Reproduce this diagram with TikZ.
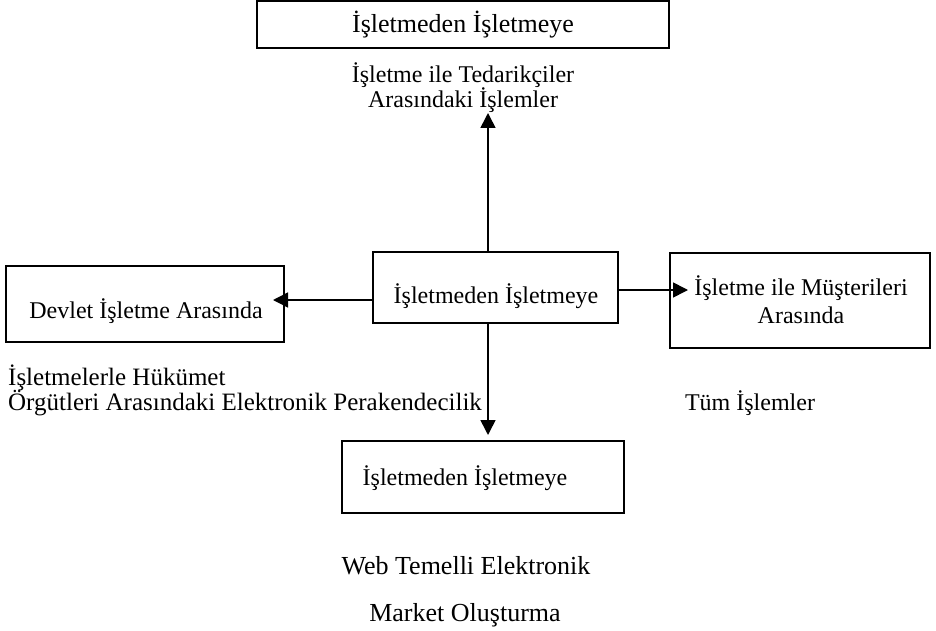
\documentclass[tikz,border=0pt]{standalone}
\usepackage{fontspec}
\setmainfont{Liberation Serif}
\usetikzlibrary{arrows.meta}
\tikzset{
  boxnode/.style={draw=black, line width=2pt, rectangle, inner sep=0pt},
  txt/.style={inner sep=0pt, anchor=base, font=\fontsize{24}{28}\selectfont},
  txtL/.style={inner sep=0pt, anchor=base west, font=\fontsize{25}{29}\selectfont},
  txtB/.style={inner sep=0pt, anchor=base, font=\fontsize{26}{30}\selectfont},
  conn/.style={draw=black, line width=1.6pt, -{Triangle[length=15pt,width=15pt]}}
}
\begin{document}
\begin{tikzpicture}[x=1pt,y=-1pt]
\useasboundingbox (0,0) rectangle (936,631);
% boxes
\node[boxnode, minimum width=412pt, minimum height=47pt] (topbox) at (463,24.5) {};
\node[boxnode, minimum width=245pt, minimum height=71pt] (cbox) at (495.5,287.5) {};
\node[boxnode, minimum width=278pt, minimum height=76pt] (lbox) at (145,304) {};
\node[boxnode, minimum width=260pt, minimum height=95pt] (rbox) at (800,300.5) {};
\node[boxnode, minimum width=282pt, minimum height=72pt] (bbox) at (483,477) {};
% box texts
\node[txtB] (toptxt) at (463,33) {İşletmeden İşletmeye};
\node[txt] (ctxt) at (496,303) {İşletmeden İşletmeye};
\node[txt] (ltxt) at (146,318) {Devlet İşletme Arasında};
\node[txt] (rtxt1) at (801,295) {İşletme ile Müşterileri};
\node[txt] (rtxt2) at (801,323) {Arasında};
\node[txt] (btxt) at (465,485) {İşletmeden İşletmeye};
% labels
\node[txt] (toplab1) at (463,83) {İşletme ile Tedarikçiler};
\node[txt] (toplab2) at (463,108) {Arasındaki İşlemler};
\node[txtL] (leftlab1) at (8,385) {İşletmelerle Hükümet};
\node[txtL] (leftlab2) at (8,410) {Örgütleri Arasındaki Elektronik Perakendecilik};
\node[txt] (rightlab) at (750,410) {Tüm İşlemler};
\node[txtB] (botlab1) at (466,574) {Web Temelli Elektronik};
\node[txtB] (botlab2) at (465,621) {Market Oluşturma};
% arrow tips
\coordinate (upTip) at (488,113);
\coordinate (leftTip) at (273,300);
\coordinate (rightTip) at (688,290);
\coordinate (downTip) at (488,435);
% connectors
\draw[conn] (cbox.north -| upTip) -- (upTip);
\draw[conn] (cbox.west |- leftTip) -- (leftTip);
\draw[conn] (cbox.east |- rightTip) -- (rightTip);
\draw[conn] (cbox.south -| downTip) -- (downTip);
\end{tikzpicture}
\end{document}
